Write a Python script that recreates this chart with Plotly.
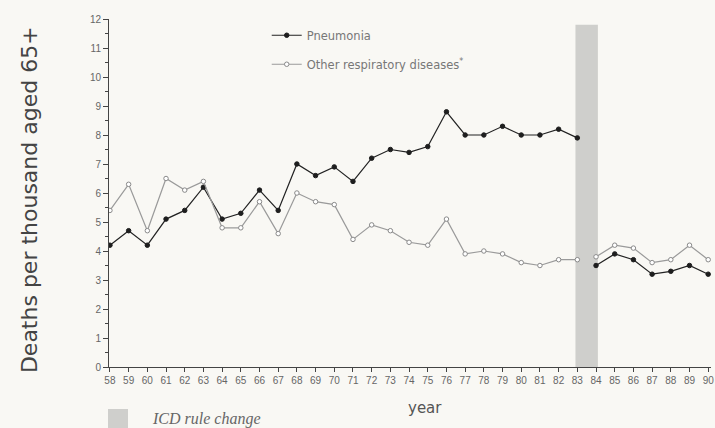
import plotly.graph_objects as go

years = list(range(58, 91))
tick_labels = [str(y) for y in years]

pneumonia = [4.2, 4.7, 4.2, 5.1, 5.4, 6.2, 5.1, 5.3, 6.1, 5.4, 7.0, 6.6, 6.9, 6.4,
             7.2, 7.5, 7.4, 7.6, 8.8, 8.0, 8.0, 8.3, 8.0, 8.0, 8.2, 7.9,
             3.5, 3.9, 3.7, 3.2, 3.3, 3.5, 3.2]
other_resp = [5.4, 6.3, 4.7, 6.5, 6.1, 6.4, 4.8, 4.8, 5.7, 4.6, 6.0, 5.7, 5.6, 4.4,
              4.9, 4.7, 4.3, 4.2, 5.1, 3.9, 4.0, 3.9, 3.6, 3.5, 3.7, 3.7,
              3.8, 4.2, 4.1, 3.6, 3.7, 4.2, 3.7]

icd_change = [82.9, 84.1]   # ICD rule change band (years)
icd_band_top = 11.8
break_after = 83            # series not connected across the rule change

BG = "#f9f8f4"
BAND = "#cfcfcc"
TICKFONT = "Liberation Sans, Arial"
WIDE = "DejaVu Sans, Verdana"

fig = go.Figure()

def split(xs, ys):
    pre = [(x, y) for x, y in zip(xs, ys) if x <= break_after]
    post = [(x, y) for x, y in zip(xs, ys) if x > break_after]
    return pre, post

series = [
    ("Pneumonia", pneumonia, dict(color="#222222", width=1.2),
     dict(symbol="circle", size=4.5, color="#1e1e1e", line=dict(color="#1e1e1e", width=1))),
    ("Other respiratory diseases<sup>*</sup>", other_resp, dict(color="#9a9a9a", width=1.2),
     dict(symbol="circle", size=4.5, color="#ffffff", line=dict(color="#8a8a8a", width=1))),
]

for i, (name, vals, line, marker) in enumerate(series):
    pre, post = split(years, vals)
    for j, seg in enumerate((pre, post)):
        fig.add_trace(go.Scatter(
            x=[p[0] for p in seg], y=[p[1] for p in seg],
            mode="lines+markers", name=name, legendgroup=f"g{i}",
            showlegend=(j == 0), line=line, marker=marker,
        ))

fig.add_shape(type="rect", xref="x", yref="y",
              x0=icd_change[0], x1=icd_change[1], y0=0, y1=icd_band_top,
              fillcolor=BAND, line=dict(width=0), layer="below")

# key for the band (bottom-left)
fig.add_shape(type="rect", xref="paper", yref="paper",
              x0=-0.0017, x1=0.0316, y0=-0.1207, y1=-0.19,
              fillcolor=BAND, line=dict(width=0))
fig.add_annotation(text="<i>ICD rule change</i>", xref="paper", yref="paper",
                   x=0.068, y=-0.149, xanchor="left", yanchor="middle", showarrow=False,
                   font=dict(size=16, color="#666", family="Liberation Serif, serif"))

fig.add_annotation(text="year", xref="paper", yref="paper", x=0.525, y=-0.118,
                   xanchor="center", yanchor="middle", showarrow=False,
                   font=dict(size=15, color="#555", family=WIDE))
fig.add_annotation(text="Deaths per thousand aged 65+", xref="paper", yref="paper",
                   x=-0.131, y=0.48, textangle=-90, xanchor="center", yanchor="middle",
                   showarrow=False, font=dict(size=22, color="#444", family=WIDE))

fig.update_layout(
    width=715, height=428,
    margin=dict(l=109, r=4, t=19, b=61, autoexpand=False),
    paper_bgcolor=BG, plot_bgcolor=BG,
    font=dict(family=TICKFONT, color="#555"),
    legend=dict(x=0.262, y=0.995, xanchor="left", yanchor="top",
                bgcolor="rgba(0,0,0,0)", font=dict(size=11.5, color="#777", family=WIDE),
                tracegroupgap=10, traceorder="grouped"),
)

fig.update_xaxes(
    range=[57.95, 90.15], tickmode="array", tickvals=years, ticktext=tick_labels,
    showgrid=False, zeroline=False, showline=True, linecolor="#444", linewidth=1,
    ticks="outside", ticklen=4, tickcolor="#444", automargin=False,
    tickfont=dict(size=10, color="#666", family=TICKFONT),
)
fig.update_yaxes(
    range=[0, 12], dtick=1, tick0=0, automargin=False,
    showgrid=False, zeroline=False, showline=True, linecolor="#444", linewidth=1,
    ticks="outside", ticklen=5, tickcolor="#444",
    minor=dict(dtick=0.5, ticks="outside", ticklen=3, tickcolor="#444"),
    tickfont=dict(size=10, color="#666", family=TICKFONT),
)

fig.write_html("out.html", config={"displayModeBar": False},
               post_script="document.body.style.margin='0';document.body.style.overflow='hidden';")
